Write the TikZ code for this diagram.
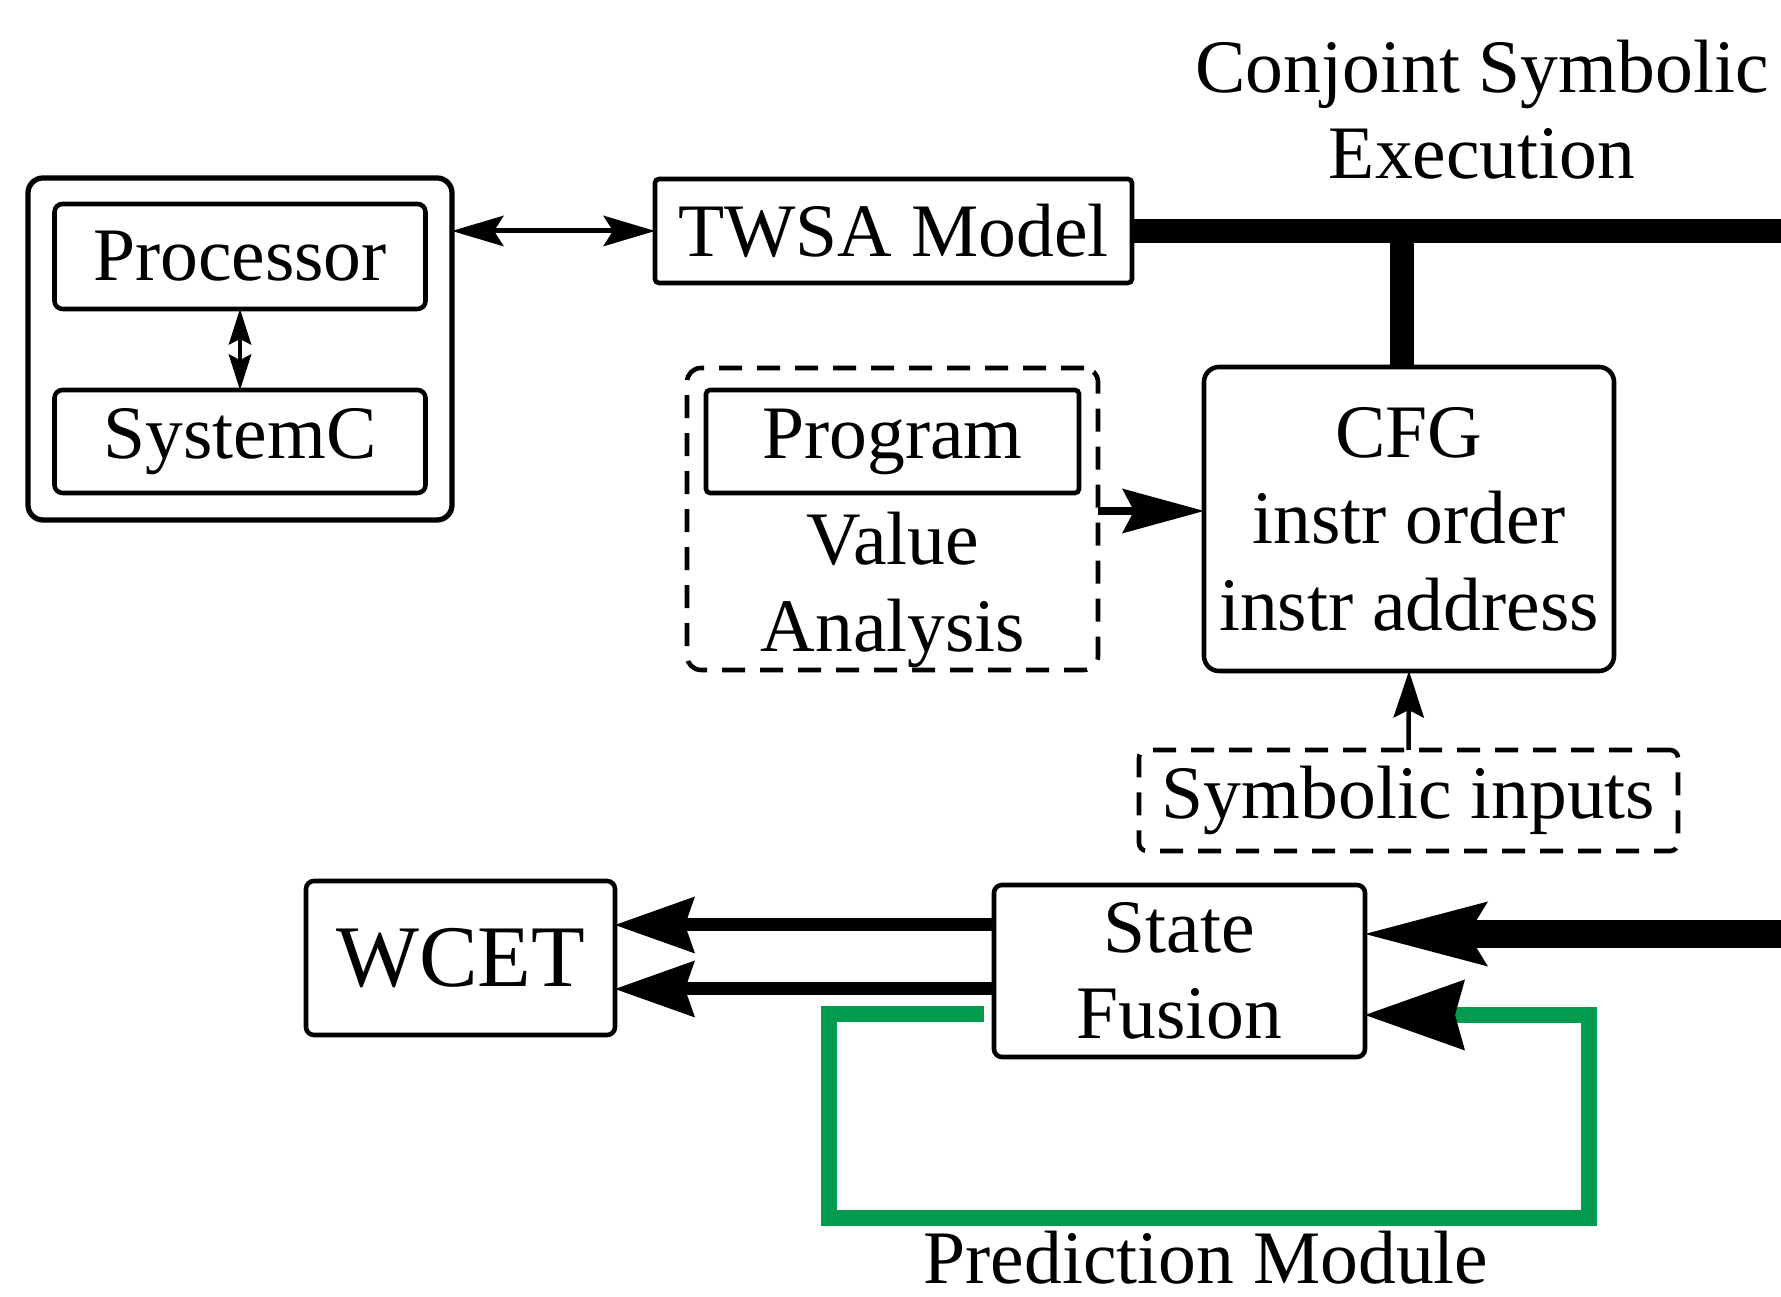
\documentclass[tikz,border=0pt]{standalone}
\usepackage{fontspec}
\setmainfont{Liberation Serif}
\usetikzlibrary{arrows.meta}
\newcommand{\boxfont}{\fontsize{21.5pt}{24.6pt}\selectfont}
\definecolor{loopgreen}{RGB}{0,155,78}

\begin{document}
\begin{tikzpicture}[
  blk/.style={draw, line width=1.3pt, rounded corners=0.08cm, inner sep=0pt, outer sep=0pt, font=\boxfont, align=center},
  dashblk/.style={blk, dash pattern=on 0.23cm off 0.15cm, rounded corners=0.14cm},
  txt/.style={font=\boxfont, align=center, inner sep=0pt},
  bus/.style={line width=0.24cm},
  thinarr/.style={line width=0.045cm, >={Stealth[length=0.36cm,width=0.23cm,inset=0.06cm,line width=0pt]}},
  midarr/.style={line width=0.05cm, >={Stealth[length=0.52cm,width=0.31cm,inset=0.1cm,line width=0pt]}},
  fatarr/.style={line width=0.13cm, >={Stealth[length=0.8cm,width=0.57cm,inset=0.1cm,line width=0pt]}}
]
\useasboundingbox (0,0) rectangle (17.81,12.97);

\node[blk, line width=1.5pt, rounded corners=0.15cm, minimum width=4.24cm, minimum height=3.42cm] (hw) at (2.40,9.48) {};
\node[blk, minimum width=3.71cm, minimum height=1.05cm] (proc) at (2.40,10.405) {Processor};
\node[blk, minimum width=3.71cm, minimum height=1.03cm] (sysc) at (2.40,8.555) {SystemC};
\node[blk, rounded corners=0.04cm, minimum width=4.77cm, minimum height=1.04cm] (twsa) at (8.935,10.66) {TWSA Model};

\node[dashblk, minimum width=4.11cm, minimum height=3.02cm] (va) at (8.925,7.78) {};
\node[blk, rounded corners=0.04cm, minimum width=3.73cm, minimum height=1.03cm] (prog) at (8.925,8.555) {Program};
\node[txt] (vatxt) at (8.93,7.07) {Value\\Analysis};

\node[blk, rounded corners=0.15cm, minimum width=4.10cm, minimum height=3.04cm] (cfg) at (14.09,7.78) {CFG\\instr order\\instr address};
\node[dashblk, rounded corners=0.08cm, minimum width=5.39cm, minimum height=1.01cm] (sym) at (14.085,4.965) {Symbolic inputs};

\node[blk, minimum width=3.71cm, minimum height=1.72cm] (fuse) at (11.795,3.26) {State\\Fusion};
\node[blk, font=\fontsize{25pt}{30pt}\selectfont, minimum width=3.09cm, minimum height=1.54cm] (wcet) at (4.605,3.39) {WCET};

\node[txt] (cse) at (14.82,11.875) {Conjoint Symbolic\\Execution};
\node[txt, anchor=base] (pred) at (12.06,0.13) {Prediction Module};

\coordinate (busend) at (18.0,10.66);
\coordinate (fusein) at (18.0,3.63);
\coordinate (loopin) at (9.84,2.83);
\coordinate (lp1) at (8.29,0.79);
\coordinate (lp2) at (15.89,2.82);

\draw[bus] (twsa.east) -- (busend);
\draw[bus] ([xshift=-0.07cm]cfg.north) -- ([xshift=-0.07cm]cfg.north |- twsa.east);

\draw[thinarr, <->] (proc.south) -- (sysc.north);
\draw[midarr, <->] (twsa.west -| hw.east) -- (twsa.west);
\draw[line width=0.08cm, -{Stealth[length=0.82cm,width=0.45cm,inset=0.12cm,line width=0pt]}] ([yshift=0.08cm]va.east) -- ([yshift=0.08cm]cfg.west);
\draw[line width=0.045cm, -{Stealth[length=0.47cm,width=0.31cm,inset=0.08cm,line width=0pt]}] (sym.north) -- (cfg.south);

\draw[line width=0.28cm, -{Stealth[length=1.23cm,width=0.65cm,inset=0.2cm,line width=0pt]}] (fusein) -- (fuse.east |- fusein);
\draw[fatarr, ->] ([yshift=0.46cm]fuse.west) -- ([yshift=0.46cm]fuse.west -| wcet.east);
\draw[fatarr, ->] ([yshift=-0.18cm]fuse.west) -- ([yshift=-0.18cm]fuse.west -| wcet.east);

% prediction loop
\draw[loopgreen, line width=0.16cm, -{Stealth[length=1.0cm,width=0.71cm,inset=0.1cm,line width=0pt,color=black]}] (loopin) -| (lp1) -| (lp2) -- (fuse.east |- lp2);

\end{tikzpicture}
\end{document}
